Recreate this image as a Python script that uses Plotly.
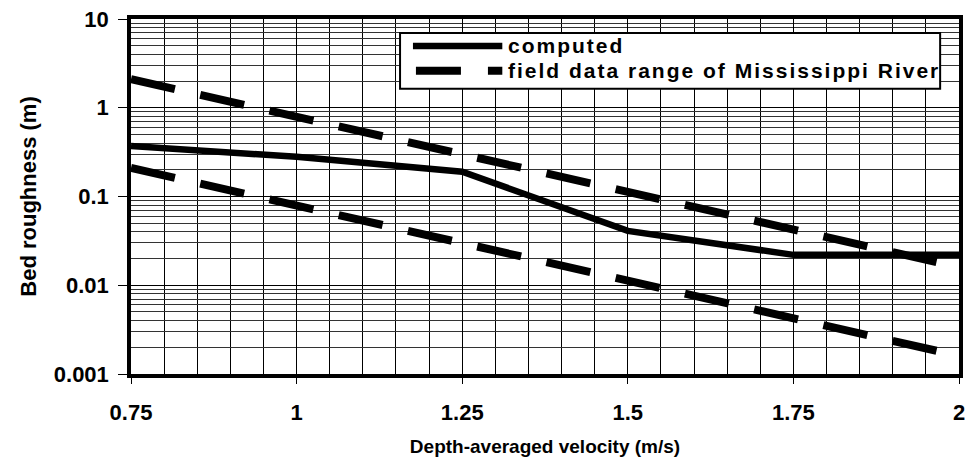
import plotly.graph_objects as go

# ---- data ----
velocity_computed = [0.75, 1.0, 1.25, 1.5, 1.75, 2.0]
roughness_computed = [0.37, 0.28, 0.19, 0.041, 0.022, 0.022]

velocity_range = [0.75, 2.0]
roughness_upper = [2.1, 0.016]
roughness_lower = [0.21, 0.0016]

x_ticks = [0.75, 1, 1.25, 1.5, 1.75, 2]
x_ticklabels = ["0.75", "1", "1.25", "1.5", "1.75", "2"]
y_ticks = [0.001, 0.01, 0.1, 1, 10]
y_ticklabels = ["0.001", "0.01", "0.1", "1", "10"]

legend_labels = ["computed", "field data range of Mississippi River"]

FONT = "Liberation Sans, Arial, sans-serif"
W, H = 972, 466
ML, MR, MT, MB = 131, 7, 18, 92
PW, PH = W - ML - MR, H - MT - MB


def px(xp):
    return (xp - ML) / PW


def py(yp):
    return (H - MB - yp) / PH


DASH = "45px,26px"

fig = go.Figure()
fig.add_trace(go.Scatter(
    x=velocity_computed, y=roughness_computed, mode="lines",
    name=legend_labels[0], line=dict(color="black", width=6.5),
))
fig.add_trace(go.Scatter(
    x=velocity_range, y=roughness_upper, mode="lines",
    name=legend_labels[1], line=dict(color="black", width=8, dash=DASH),
))
fig.add_trace(go.Scatter(
    x=velocity_range, y=roughness_lower, mode="lines",
    name=legend_labels[1], line=dict(color="black", width=8, dash=DASH),
))

ROW1, ROW2 = 45, 70
shapes = [
    dict(type="rect", xref="paper", yref="paper",
         x0=px(402), x1=px(946), y0=py(88), y1=py(32),
         line=dict(color="black", width=2), fillcolor="white", layer="above"),
    dict(type="line", xref="paper", yref="paper",
         x0=px(415), x1=px(505), y0=py(ROW1), y1=py(ROW1),
         line=dict(color="black", width=6.5), layer="above"),
    dict(type="line", xref="paper", yref="paper",
         x0=px(418), x1=px(505), y0=py(ROW2), y1=py(ROW2),
         line=dict(color="black", width=8, dash="45px,27px"), layer="above"),
]
LEG_FONT = dict(family=FONT, size=21, weight="bold", color="black")
annotations = [
    dict(xref="paper", yref="paper", x=px(510), y=py(ROW1), xanchor="left", yanchor="middle",
         text='<span style="letter-spacing:2px">' + legend_labels[0] + '</span>',
         showarrow=False, font=LEG_FONT, borderpad=0),
    dict(xref="paper", yref="paper", x=px(510), y=py(ROW2), xanchor="left", yanchor="middle",
         text='<span style="letter-spacing:2px">' + legend_labels[1] + '</span>',
         showarrow=False, font=LEG_FONT, borderpad=0),
]

fig.update_layout(
    width=W, height=H,
    margin=dict(l=ML, r=MR, t=MT, b=MB),
    paper_bgcolor="white", plot_bgcolor="white",
    font=dict(family=FONT, color="black"),
    showlegend=False,
    shapes=shapes,
    annotations=annotations,
)

fig.update_xaxes(
    range=[0.75, 2.0],
    tickmode="array", tickvals=x_ticks, ticktext=x_ticklabels,
    tickfont=dict(family=FONT, size=22, weight="bold", color="black"),
    ticks="outside", ticklen=6, tickwidth=1, tickcolor="black",
    ticklabelstandoff=10,
    showline=True, linecolor="black", linewidth=3.5, mirror=True,
    showgrid=True, gridcolor="black", gridwidth=1,
    minor=dict(dtick=0.05, showgrid=True, gridcolor="black", gridwidth=1, ticks=""),
    zeroline=False,
    title=dict(text="Depth-averaged velocity (m/s)",
               font=dict(family=FONT, size=19, weight="bold", color="black"),
               standoff=17),
)

fig.update_yaxes(
    type="log", range=[-3, 1],
    tickmode="array", tickvals=y_ticks, ticktext=y_ticklabels,
    tickfont=dict(family=FONT, size=22, weight="bold", color="black"),
    ticks="outside", ticklen=9, tickwidth=1, tickcolor="black",
    ticklabelstandoff=5,
    showline=True, linecolor="black", linewidth=3.5, mirror=True,
    showgrid=True, gridcolor="black", gridwidth=1,
    minor=dict(dtick="D1", showgrid=True, gridcolor="#333333", gridwidth=1, ticks=""),
    zeroline=False,
    title=dict(text="Bed roughness (m)",
               font=dict(family=FONT, size=22, weight="bold", color="black"),
               standoff=12),
)

fig.write_html("out.html")
